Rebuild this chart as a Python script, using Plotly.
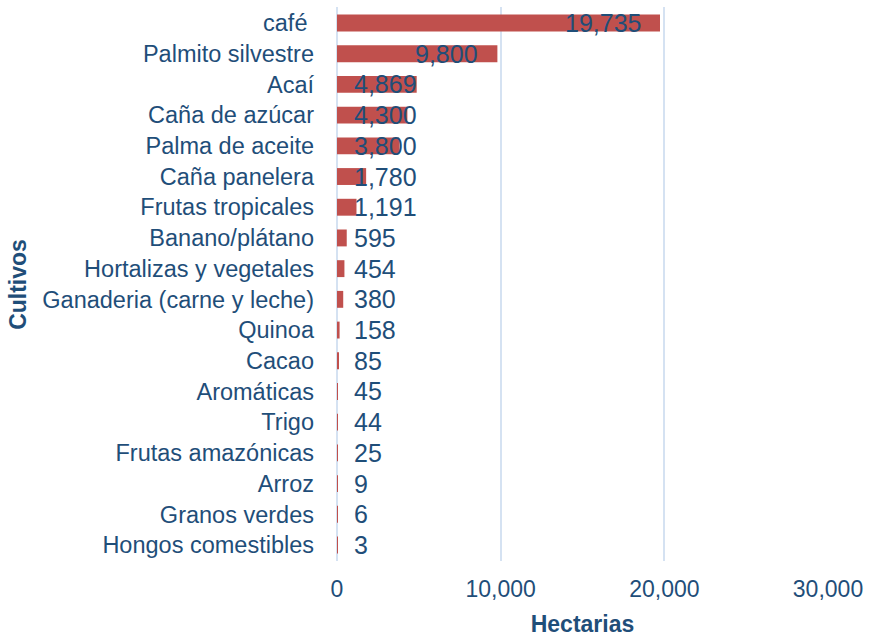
import plotly.graph_objects as go

cultivos = ["café\u00a0", "Palmito silvestre", "Acaí", "Caña de azúcar", "Palma de aceite",
            "Caña panelera", "Frutas tropicales", "Banano/plátano", "Hortalizas y vegetales",
            "Ganaderia (carne y leche)", "Quinoa", "Cacao", "Aromáticas", "Trigo",
            "Frutas amazónicas", "Arroz", "Granos verdes", "Hongos comestibles"]
hectareas = [19735, 9800, 4869, 4300, 3800, 1780, 1191, 595, 454, 380, 158, 85, 45, 44, 25, 9, 6, 3]
x_ticks = [0, 10000, 20000, 30000]

BLUE = "#1F4E79"
GRID = "#D5E2F2"
FONT = "Liberation Sans, Arial, sans-serif"

fig = go.Figure()
fig.add_trace(go.Bar(
    y=cultivos, x=hectareas, orientation="h",
    marker=dict(color="#C0504D", line=dict(width=0)),
    width=0.55, hoverinfo="x+y",
))

annotations = []
for c, v in zip(cultivos, hectareas):
    big = v > 6000
    annotations.append(dict(
        x=v if big else 0, y=c, xref="x", yref="y",
        text=f"{v:,}", showarrow=False,
        xanchor="right" if big else "left",
        xshift=-17 if big else 15,
        font=dict(family=FONT, size=25, color=BLUE),
    ))
annotations.append(dict(
    x=-0.65, y=0.5, xref="paper", yref="paper", text="<b>Cultivos</b>",
    textangle=-90, showarrow=False, xanchor="center", yanchor="middle",
    font=dict(family=FONT, size=23, color=BLUE),
))

fig.update_layout(
    width=869, height=637,
    margin=dict(l=337, r=41, t=7, b=76),
    paper_bgcolor="white", plot_bgcolor="white",
    showlegend=False,
    font=dict(family=FONT, size=23, color=BLUE),
    annotations=annotations,
    xaxis=dict(
        range=[0, 30000], tickvals=x_ticks, tickformat=",d",
        showgrid=True, gridcolor=GRID, gridwidth=2,
        zeroline=True, zerolinecolor=GRID, zerolinewidth=2,
        showline=False, ticks="", ticklabelstandoff=12,
        tickfont=dict(family=FONT, size=23, color=BLUE),
        title=dict(text="<b>Hectarias</b>", standoff=15,
                   font=dict(family=FONT, size=23, color=BLUE)),
        automargin=False,
    ),
    yaxis=dict(
        autorange="reversed", type="category",
        showgrid=False, showline=False, ticks="", ticklabelstandoff=22,
        tickfont=dict(family=FONT, size=23.5, color=BLUE),
        automargin=False,
    ),
)

fig.write_html("out.html", config={"displayModeBar": False},
               post_script="document.body.style.margin='0';document.body.style.overflow='hidden';")
